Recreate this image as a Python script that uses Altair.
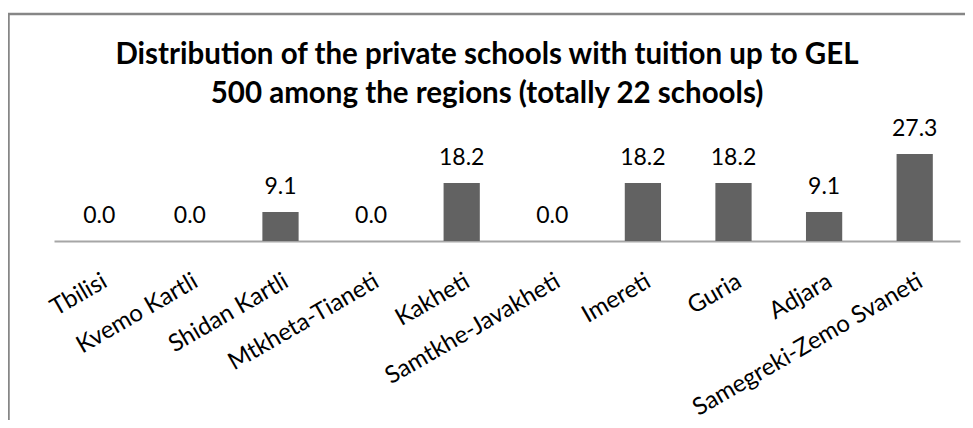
import altair as alt
import pandas as pd

regions = ["Tbilisi", "Kvemo Kartli", "Shidan Kartli", "Mtkheta-Tianeti", "Kakheti",
           "Samtkhe-Javakheti", "Imereti", "Guria", "Adjara", "Samegreki-Zemo Svaneti"]
shares = [0.0, 0.0, 9.1, 0.0, 18.2, 0.0, 18.2, 18.2, 9.1, 27.3]
title_lines = ["Distribution of the private schools  with tuition  up to GEL",
               "500  among the regions (totally 22 schools)"]

df = pd.DataFrame({"region": regions, "share": shares})
df["label"] = df["share"].map(lambda v: f"{v:.1f}")

FONT = "Lato, sans-serif"

x = alt.X("region:N", sort=regions, title=None,
          scale=alt.Scale(paddingInner=0.6, paddingOuter=0.3),
          axis=alt.Axis(labelAngle=-30, labelFontSize=24, labelFont=FONT, labelColor="#000000",
                        ticks=False, domainColor="#a6a6a6", domainWidth=2, labelPadding=28,
                        labelLimit=400))
y = alt.Y("share:Q", axis=None, scale=alt.Scale(domain=[0, 38], nice=False, zero=True))

base = alt.Chart(df).encode(x=x, y=y)
bars = base.mark_bar(color="#626262")
labels = base.mark_text(dy=-18, baseline="alphabetic", fontSize=23, font=FONT, color="#000000").encode(text="label:N")

border = alt.Chart(pd.DataFrame({"d": [0]})).mark_rect(
    fill=None, stroke="#868686", strokeWidth=2.5).encode(
    x=alt.value(-45.5), x2=alt.value(1000), y=alt.value(-106), y2=alt.value(400))

chart = alt.layer(border, bars, labels).properties(
    width=906, height=121,
    title=alt.TitleParams(text=title_lines, anchor="middle", frame="group", fontSize=29.5,
                          font=FONT, fontWeight="bold", color="#000000", lineHeight=39.5,
                          baseline="alphabetic", offset=-120, dx=-20),
    autosize=alt.AutoSizeParams(type="none"),
    padding={"left": 46, "top": 112, "right": 5, "bottom": 179},
).configure(background="#ffffff", view=alt.ViewConfig(stroke=None))

chart.save("out.html", embed_options={"renderer": "svg", "actions": False})
